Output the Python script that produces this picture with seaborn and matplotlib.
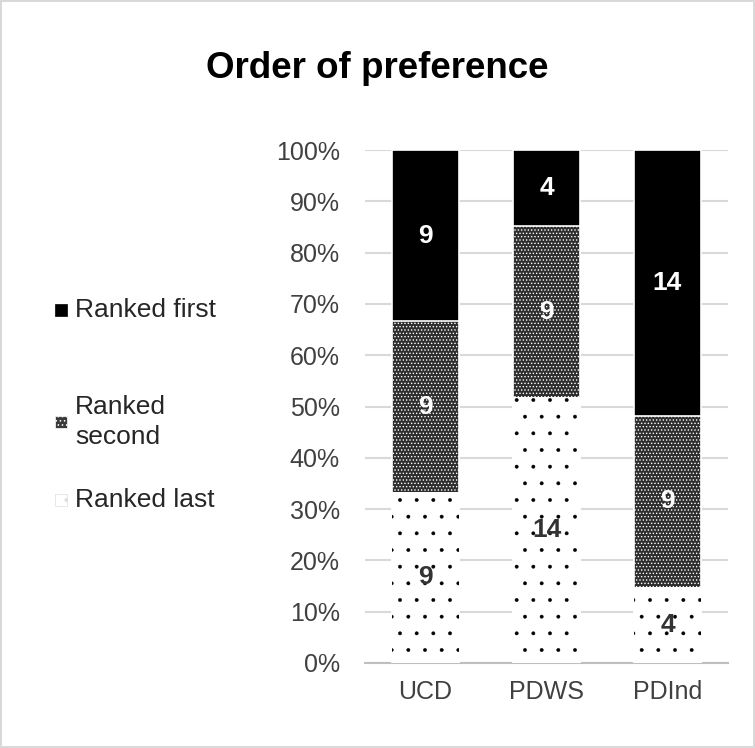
import matplotlib.pyplot as plt
import matplotlib.patches as mpatches
import pandas as pd
import seaborn as sns

# counts (27 respondents per option)
categories = ['UCD', 'PDWS', 'PDInd']
ranked_last = [9, 14, 4]
ranked_second = [9, 9, 9]
ranked_first = [9, 4, 14]

df = pd.DataFrame({'cat': categories, 'last': ranked_last,
                   'second': ranked_second, 'first': ranked_first})
df['total'] = df['last'] + df['second'] + df['first']
df['p_last'] = df['last'] / df['total'] * 100
df['p_second'] = df['second'] / df['total'] * 100
df['p_first'] = df['first'] / df['total'] * 100
df['c_second'] = df['p_last'] + df['p_second']
df['c_first'] = df['c_second'] + df['p_first']

sns.set_style('white')
plt.rcParams['font.family'] = ['Liberation Sans', 'DejaVu Sans']

fig = plt.figure(figsize=(7.55, 7.48), dpi=100)
fig.patch.set_edgecolor('#d9d9d9')
fig.patch.set_linewidth(1.5)
ax = fig.add_axes([365 / 755, 1 - 663 / 748, 363 / 755, 513 / 748])

# cumulative layers, tallest first so the shorter ones sit on top
sns.barplot(data=df, x='cat', y='c_first', color='black', width=0.55,
            saturation=1, edgecolor='white', linewidth=1.2, ax=ax, zorder=3)
n0 = len(ax.patches)
plt.rcParams['hatch.linewidth'] = 0.6
sns.barplot(data=df, x='cat', y='c_second', color='#2e2e2e', width=0.55,
            saturation=1, edgecolor='white', linewidth=1.2, hatch='.....',
            ax=ax, zorder=4)
plt.rcParams['hatch.linewidth'] = 0.3
sns.barplot(data=df, x='cat', y='p_last', color='white', width=0.55,
            saturation=1, edgecolor='black', linewidth=0, hatch='.',
            ax=ax, zorder=5)

# segment labels
lab = dict(ha='center', va='center', fontsize=19, fontweight='bold', zorder=6)
for i, row in df.iterrows():
    ax.text(i, row['p_last'] / 2, str(row['last']), color='#333333', **lab)
    ax.text(i, row['p_last'] + row['p_second'] / 2, str(row['second']),
            color='white', **lab)
    ax.text(i, row['c_second'] + row['p_first'] / 2, str(row['first']),
            color='white', **lab)

ax.set_ylim(0, 100)
ax.set_xlim(-0.5, 2.5)
ax.set_yticks(range(0, 101, 10))
ax.set_yticklabels([f'{v}%' for v in range(0, 101, 10)])
ax.yaxis.grid(True, color='#d9d9d9', linewidth=1.5, zorder=0)
ax.set_axisbelow(True)
ax.set_xlabel('')
ax.set_ylabel('')
for s in ['left', 'right', 'top']:
    ax.spines[s].set_visible(False)
ax.spines['bottom'].set_color('#bfbfbf')
ax.spines['bottom'].set_linewidth(1.5)
ax.tick_params(axis='y', length=0, pad=18, labelsize=18, labelcolor='#404040')
ax.tick_params(axis='x', length=0, pad=12, labelsize=18, labelcolor='#404040')

fig.text(0.5, 1 - 68 / 748, 'Order of preference', ha='center', va='center',
         fontsize=26.5, fontweight='bold', color='black')

# legend drawn by hand to keep the uneven spacing
plt.rcParams['hatch.linewidth'] = 0.6
leg_items = [('Ranked first', 310, dict(facecolor='black', edgecolor='black')),
             ('Ranked\nsecond', 422, dict(facecolor='#3a3a3a', edgecolor='white', hatch='....')),
             ('Ranked last', 500, dict(facecolor='white', edgecolor='#dddddd', hatch='.'))]
for label, ypx, style in leg_items:
    fig.add_artist(mpatches.Rectangle((55 / 755, 1 - (ypx + 6) / 748), 12 / 755, 12 / 748,
                                      transform=fig.transFigure, linewidth=0.5, **style))
    fig.text(75 / 755, 1 - ypx / 748, label, ha='left', va='center',
             fontsize=19, color='#262626', linespacing=1.3)

fig.savefig('out.png', dpi=100, edgecolor=fig.get_edgecolor())
